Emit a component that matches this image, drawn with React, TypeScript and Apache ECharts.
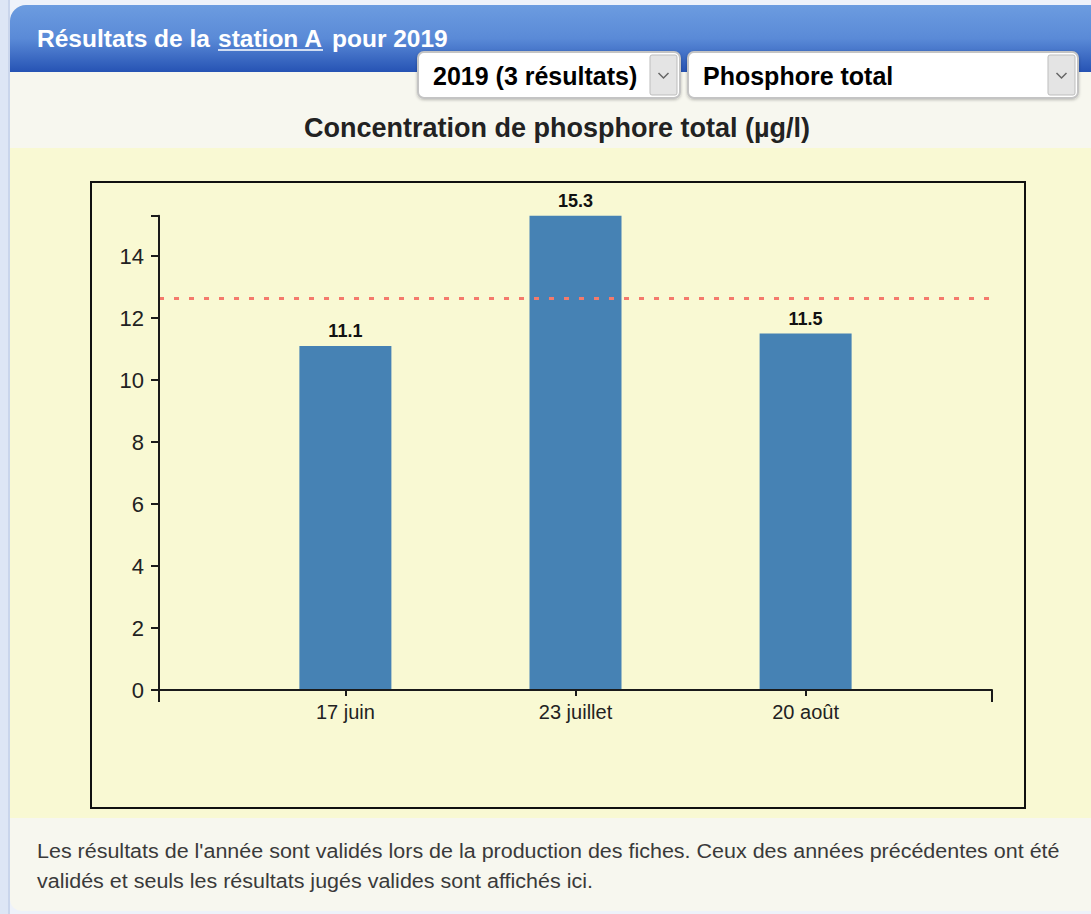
import React, { useEffect, useRef } from "react";
import * as echarts from "echarts";

const categories = ["17 juin", "23 juillet", "20 août"];
const values = [11.1, 15.3, 11.5];
const yTickLabels = [0, 2, 4, 6, 8, 10, 12, 14];
const yMax = 15.3;
const xMin = 0.19;
const xMax = 3.81;

const headerTitle = ["Résultats de la", "station A", "pour 2019"];
const selectYear = "2019 (3 résultats)";
const selectParam = "Phosphore total";
const chartTitle = "Concentration de phosphore total (µg/l)";
const footerLines = [
  "Les résultats de l'année sont validés lors de la production des fiches. Ceux des années précédentes ont été",
  "validés et seuls les résultats jugés valides sont affichés ici.",
];

const FONT = "'Liberation Sans', Arial, sans-serif";

export default function App() {
  const ref = useRef<HTMLDivElement>(null);
  useEffect(() => {
    if (!ref.current) return;
    const chart = echarts.init(ref.current, undefined, { renderer: "svg" });
    const positions = categories.map((_, i) => i + 1);
    const chevron = (cx: number, cy: number) => ({
      type: "polyline",
      z: 3,
      shape: { points: [[cx - 5, cy - 3], [cx, cy + 2], [cx + 5, cy - 3]] },
      style: { stroke: "#666", lineWidth: 1.5, fill: null },
    });
    const select = (x: number, w: number, label: string) => [
      {
        type: "rect",
        z: 2,
        shape: { x: x, y: 52, width: w, height: 46, r: 6 },
        style: { fill: "#ffffff", stroke: "#c4c4c4", lineWidth: 2, shadowBlur: 3, shadowColor: "rgba(0,0,0,0.25)", shadowOffsetY: 1 },
      },
      {
        type: "rect",
        z: 3,
        shape: { x: x + w - 30, y: 55, width: 27, height: 40, r: 2 },
        style: { fill: "#e4e4e4", stroke: "#bdbdbd", lineWidth: 1 },
      },
      chevron(x + w - 16.5, 76),
      {
        type: "text",
        z: 3,
        x: x + 15,
        y: 76,
        style: { text: label, font: `bold 25px ${FONT}`, fill: "#000", verticalAlign: "middle", align: "left" },
      },
    ];
    const headerStyle = { font: `bold 24.5px ${FONT}`, fill: "#fff", verticalAlign: "middle", shadowBlur: 2, shadowColor: "rgba(0,0,0,0.3)" };

    chart.setOption({
      animation: false,
      backgroundColor: "#eef2fa",
      graphic: [
        { type: "rect", z: 0, shape: { x: 0, y: 0, width: 9, height: 914 }, style: { fill: "#dde6f5" } },
        { type: "rect", z: 0, shape: { x: 8, y: 0, width: 2, height: 914 }, style: { fill: "#c9d5eb" } },
        { type: "rect", z: 0, shape: { x: 10, y: 5, width: 1100, height: 906, r: [16, 0, 0, 12] }, style: { fill: "#f7f7ef" } },
        {
          type: "rect",
          z: 1,
          shape: { x: 10, y: 5, width: 1100, height: 67, r: [16, 0, 0, 0] },
          style: {
            fill: new echarts.graphic.LinearGradient(0, 0, 0, 1, [
              { offset: 0, color: "#6c9ce0" },
              { offset: 0.5, color: "#5a8ad7" },
              { offset: 1, color: "#2653b4" },
            ]),
          },
        },
        { type: "rect", z: 0, shape: { x: 10, y: 148, width: 1100, height: 670 }, style: { fill: "#f9f9d3" } },
        { type: "text", z: 3, x: 37, y: 38, style: { ...headerStyle, text: headerTitle[0] } },
        { type: "text", z: 3, x: 218, y: 38, style: { ...headerStyle, text: headerTitle[1] } },
        { type: "line", z: 3, shape: { x1: 218, y1: 50, x2: 323, y2: 50 }, style: { stroke: "#fff", lineWidth: 1.5 } },
        { type: "text", z: 3, x: 332, y: 38, style: { ...headerStyle, text: headerTitle[2] } },
        ...select(418, 262, selectYear),
        ...select(688, 390, selectParam),
        {
          type: "text", z: 3, x: 557, y: 128,
          style: { text: chartTitle, font: `bold 27px ${FONT}`, fill: "#222", align: "center", verticalAlign: "middle" },
        },
        { type: "rect", z: 1, shape: { x: 91, y: 182, width: 934, height: 626 }, style: { fill: "none", stroke: "#111", lineWidth: 2 } },
        {
          type: "text", z: 3, x: 37, y: 851, scaleX: 1.074,
          style: { text: footerLines[0], font: `20px ${FONT}`, fill: "#3a3a3a", verticalAlign: "middle" },
        },
        {
          type: "text", z: 3, x: 37, y: 881, scaleX: 1.074,
          style: { text: footerLines[1], font: `20px ${FONT}`, fill: "#3a3a3a", verticalAlign: "middle" },
        },
      ],
      grid: { left: 159, right: 99, top: 215.7, bottom: 224, containLabel: false },
      xAxis: [
        {
          type: "value",
          min: xMin,
          max: xMax,
          z: 5,
          splitLine: { show: false },
          axisLine: { show: true, lineStyle: { color: "#1a1a1a", width: 2 } },
          axisTick: { show: true, length: 6, customValues: positions, lineStyle: { color: "#1a1a1a", width: 2 } },
          axisLabel: {
            show: true,
            customValues: positions,
            formatter: (v: number) => categories[Math.round(v) - 1] ?? "",
            fontFamily: FONT,
            fontSize: 20,
            color: "#222",
            margin: 12,
          },
        },
        {
          type: "value",
          min: xMin,
          max: xMax,
          position: "bottom",
          z: 5,
          splitLine: { show: false },
          axisLine: { show: false },
          axisTick: { show: true, length: 12, customValues: [xMin, xMax], lineStyle: { color: "#1a1a1a", width: 2 } },
          axisLabel: { show: false },
        },
      ],
      yAxis: {
        type: "value",
        min: 0,
        max: yMax,
        z: 5,
        splitLine: { show: false },
        axisLine: { show: true, lineStyle: { color: "#1a1a1a", width: 2 } },
        axisTick: { show: true, length: 8, customValues: [...yTickLabels, yMax], lineStyle: { color: "#1a1a1a", width: 2 } },
        axisLabel: {
          show: true,
          customValues: yTickLabels,
          fontFamily: FONT,
          fontSize: 22,
          color: "#222",
          margin: 15,
        },
      },
      series: [
        {
          type: "bar",
          z: 4,
          xAxisIndex: 0,
          barWidth: 92,
          data: values.map((v, i) => [positions[i], v]),
          itemStyle: { color: "#4682b4" },
          label: {
            show: true,
            position: "top",
            distance: 6,
            formatter: (p: any) => String(p.value[1]),
            fontFamily: FONT,
            fontWeight: "bold",
            fontSize: 18,
            color: "#111",
          },
          markLine: {
            silent: true,
            symbol: ["none", "none"],
            data: [{ type: "average", valueDim: "y" }],
            lineStyle: { color: "#f47a6c", type: [5, 10], width: 3 },
            label: { show: false },
          },
        },
      ],
    });
    return () => chart.dispose();
  }, []);
  return <div ref={ref} style={{ position: "absolute", left: 0, top: 0, width: 1091, height: 914 }} />;
}
